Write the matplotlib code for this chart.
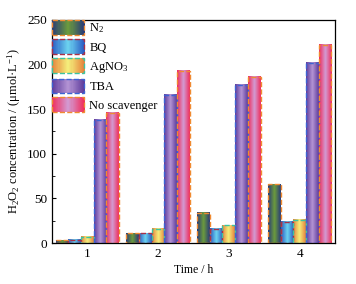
import numpy as np
import matplotlib
matplotlib.use('Agg')
import matplotlib.pyplot as plt
from matplotlib.colors import LinearSegmentedColormap
from matplotlib.patches import Rectangle
from matplotlib.legend_handler import HandlerBase

plt.rcParams['font.family'] = ['Liberation Serif', 'DejaVu Serif']
plt.rcParams['mathtext.fontset'] = 'custom'
plt.rcParams['mathtext.rm'] = 'Liberation Serif'
plt.rcParams['mathtext.it'] = 'Liberation Serif:italic'

times = [1, 2, 3, 4]
labels = ['N$_2$', 'BQ', 'AgNO$_3$', 'TBA', 'No scavenger']
n2 = [3, 11, 34, 66]
bq = [4, 11, 16, 24]
agno3 = [7, 16, 20, 26]
tba = [138, 166, 177, 202]
no_scav = [146, 193, 186, 222]
series = [n2, bq, agno3, tba, no_scav]

# gradient: edge colour -> centre colour -> edge colour
grads = [('#283a78', '#6c9c3c'),
         ('#2a5cc4', '#6cd4f0'),
         ('#e6823c', '#f4f07c'),
         ('#5e3c9c', '#b494d4'),
         ('#f02c5c', '#d29cd4')]
edges = ['#f08a30', '#a83048', '#3cc4a0', '#3c64d4', '#f08a30']

cmaps = [LinearSegmentedColormap.from_list('g%d' % i, [a, b, a]) for i, (a, b) in enumerate(grads)]


class GradHandler(HandlerBase):
    def __init__(self, cmap, ec):
        super().__init__()
        self.cmap = cmap
        self.ec = ec

    def create_artists(self, legend, orig_handle, xdescent, ydescent, width, height, fontsize, trans):
        arts = []
        n = 30
        for k in range(n):
            r = Rectangle((-xdescent + width * k / n, -ydescent), width / n + 0.3, height,
                          facecolor=self.cmap((k + 0.5) / n), edgecolor='none', transform=trans)
            arts.append(r)
        arts.append(Rectangle((-xdescent, -ydescent), width, height, facecolor='none',
                              edgecolor=self.ec, linestyle='--', linewidth=1, transform=trans))
        return arts


fig = plt.figure(figsize=(3.56, 2.84), dpi=100)
ax = fig.add_axes([0.146, 0.144, 0.795, 0.786])

w = 0.18
x = np.array(times, dtype=float)
grad_img = np.linspace(0, 1, 64).reshape(1, -1)
handles = []
for i, vals in enumerate(series):
    xs = x + (i - 2) * w
    bars = ax.bar(xs, vals, width=w, color='none', edgecolor=edges[i], linestyle='--',
                  linewidth=1, zorder=3)
    for b in bars:
        x0 = b.get_x()
        ax.imshow(grad_img, extent=[x0, x0 + w, 0, b.get_height()], aspect='auto',
                  cmap=cmaps[i], zorder=2, interpolation='bilinear')
    handles.append(bars[0])

ax.set_xlim(0.5, 4.5)
ax.set_ylim(0, 250)
ax.set_xticks(times)
ax.set_yticks([0, 50, 100, 150, 200, 250])
ax.set_yticks(np.arange(25, 250, 50), minor=True)
ax.tick_params(direction='in', labelsize=9.5, length=3)
ax.tick_params(which='minor', direction='in', length=2)
for s in ax.spines.values():
    s.set_linewidth(0.9)
ax.set_xlabel('Time / h', fontsize=8.5, labelpad=3)
ax.set_ylabel('H$_2$O$_2$ concentration / (μmol·L$^{-1}$)', fontsize=9, labelpad=3)

hmap = {h: GradHandler(cmaps[i], edges[i]) for i, h in enumerate(handles)}
ax.legend(handles, labels, handler_map=hmap, loc='upper left', frameon=False,
          fontsize=9, handlelength=2.6, handleheight=1.45, handletextpad=0.4,
          labelspacing=0.32, borderaxespad=0.0, borderpad=0.0)

fig.savefig('out.png', dpi=100)
